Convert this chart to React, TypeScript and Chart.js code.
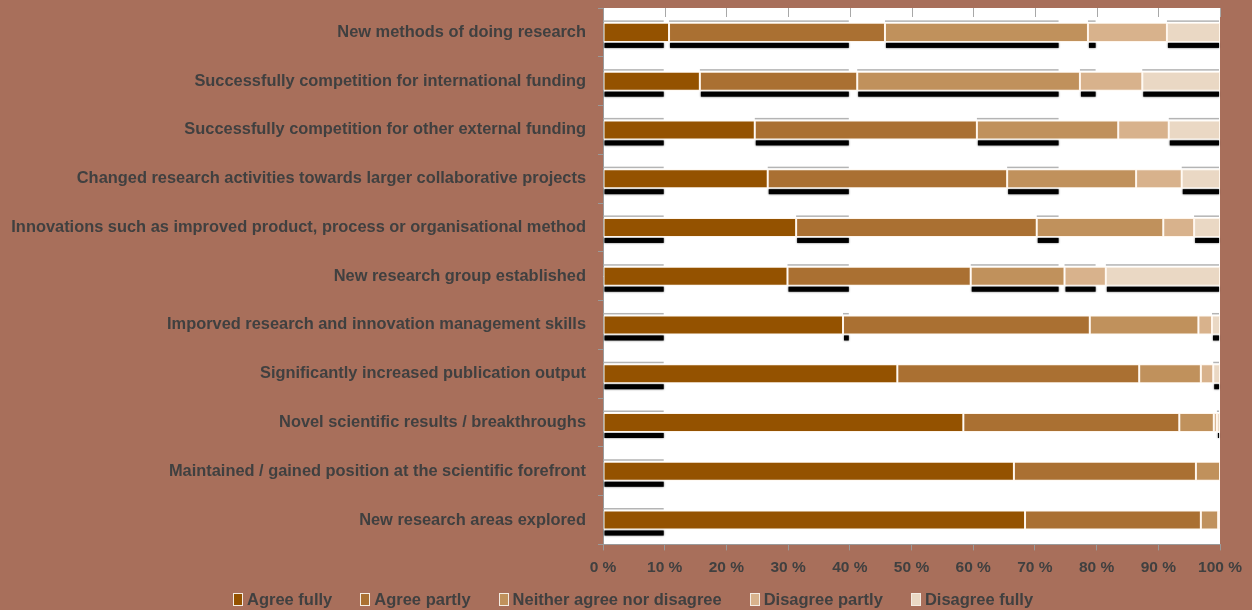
import React, { useEffect, useRef } from "react";
import { Chart, registerables } from "chart.js";

Chart.register(...registerables);

const categories = [
  "New methods of doing research",
  "Successfully competition for international funding",
  "Successfully competition for other external funding",
  "Changed research activities towards larger collaborative projects",
  "Innovations such as improved product, process or organisational method",
  "New research group established",
  "Imporved research and innovation management skills",
  "Significantly increased publication output",
  "Novel scientific results / breakthroughs",
  "Maintained / gained position at the scientific forefront",
  "New research areas explored",
];

const seriesNames = [
  "Agree fully",
  "Agree partly",
  "Neither agree nor disagree",
  "Disagree partly",
  "Disagree fully",
];

const agreeFully = [10.7, 15.7, 24.6, 26.7, 31.3, 29.9, 38.9, 47.7, 58.4, 66.6, 68.4];
const agreePartly = [35.0, 25.5, 36.0, 38.8, 39.0, 29.7, 40.0, 39.2, 35.0, 29.5, 28.5];
const neitherAgree = [32.9, 36.1, 22.9, 20.9, 20.5, 15.2, 17.6, 10.0, 5.6, 3.9, 2.8];
const disagreePartly = [12.8, 10.1, 8.2, 7.4, 5.0, 6.7, 2.2, 2.0, 0.5, 0, 0.3];
const disagreeFully = [8.6, 12.6, 8.3, 6.2, 4.2, 18.5, 1.3, 1.1, 0.5, 0, 0];

const xTicks = [0, 10, 20, 30, 40, 50, 60, 70, 80, 90, 100];

// value windows (per series) in which the dark drop-shadow strips are visible
const shadowWindows = [
  [0, 10],
  [10, 40],
  [40, 74],
  [74, 80],
  [80, 100],
];

const colors = ["#945200", "#AA7032", "#C0915C", "#D8B28C", "#EAD8C4"];
const BG = "#A86F5B";
const TEXT = "#404040";
const FONT = "'Liberation Sans', Arial, sans-serif";

const plotBgPlugin = {
  id: "plotBg",
  beforeDraw(chart: any) {
    const { ctx, chartArea } = chart;
    ctx.save();
    ctx.fillStyle = "#FFFFFF";
    ctx.fillRect(chartArea.left, chartArea.top, chartArea.right - chartArea.left, chartArea.bottom - chartArea.top);
    // short grid stubs at the top of the plot
    const xScale = chart.scales.x;
    ctx.strokeStyle = "#A8A8A8";
    ctx.lineWidth = 1;
    xTicks.forEach((v) => {
      const px = Math.round(xScale.getPixelForValue(v)) + 0.5;
      ctx.beginPath();
      ctx.moveTo(px, chartArea.top);
      ctx.lineTo(px, chartArea.top + 9);
      ctx.stroke();
    });
    ctx.restore();
  },
};

const shadowPlugin = {
  id: "barShadow",
  beforeDatasetsDraw(chart: any) {
    const { ctx } = chart;
    const xScale = chart.scales.x;
    ctx.save();
    chart.data.datasets.forEach((_: any, di: number) => {
      const meta = chart.getDatasetMeta(di);
      const [w0, w1] = shadowWindows[di];
      const wl = xScale.getPixelForValue(w0);
      const wr = xScale.getPixelForValue(w1);
      meta.data.forEach((bar: any) => {
        const left = Math.max(Math.min(bar.base, bar.x), wl);
        const right = Math.min(Math.max(bar.base, bar.x), wr) - 1;
        if (right - left < 1) return;
        const top = bar.y - bar.height / 2;
        const bottom = bar.y + bar.height / 2;
        ctx.fillStyle = "#000000";
        ctx.shadowColor = "rgba(0,0,0,0.7)";
        ctx.shadowBlur = 2;
        ctx.fillRect(left + 1, bottom + 1, right - left - 1, 5);
        ctx.shadowBlur = 0;
        ctx.fillStyle = "#B4B4B4";
        ctx.fillRect(left, top - 2.5, right - left, 1.5);
      });
    });
    ctx.restore();
  },
};

export default function App() {
  const canvasRef = useRef<HTMLCanvasElement | null>(null);

  useEffect(() => {
    const prevMargin = document.body.style.margin;
    document.body.style.margin = "0";
    document.body.style.background = BG;
    const canvas = canvasRef.current!;
    const data = [agreeFully, agreePartly, neitherAgree, disagreePartly, disagreeFully];
    const chart = new Chart(canvas, {
      type: "bar",
      data: {
        labels: categories,
        datasets: data.map((vals, i) => ({
          label: seriesNames[i],
          data: vals,
          backgroundColor: colors[i],
          borderColor: "#FFF6EC",
          borderWidth: 1,
          borderSkipped: false,
          barPercentage: 0.39,
          categoryPercentage: 1,
        })),
      },
      options: {
        indexAxis: "y",
        animation: false,
        responsive: false,
        maintainAspectRatio: false,
        layout: { padding: { top: 8, right: 32, left: 0, bottom: 25 } },
        scales: {
          x: {
            stacked: true,
            min: 0,
            max: 100,
            afterBuildTicks: (scale: any) => {
              scale.ticks = xTicks.map((v) => ({ value: v }));
            },
            afterFit: (scale: any) => {
              scale.paddingLeft = 0;
              scale.paddingRight = 0;
            },
            ticks: {
              callback: (v: any) => `${v} %`,
              color: TEXT,
              font: { family: FONT, size: 15.5, weight: "bold" },
              padding: 8,
              maxRotation: 0,
            },
            grid: { drawOnChartArea: false, tickLength: 6, color: "#9A9A9A" },
            border: { color: "#9A9A9A" },
          },
          y: {
            stacked: true,
            afterFit: (scale: any) => {
              scale.width = 603;
              scale.paddingTop = 0;
              scale.paddingBottom = 0;
            },
            ticks: {
              color: TEXT,
              font: { family: FONT, size: 16.4, weight: "bold" },
              padding: 12,
            },
            grid: { offset: true, drawOnChartArea: false, tickLength: 5, color: "#9A9A9A" },
            border: { color: "#9A9A9A" },
          },
        },
        plugins: {
          legend: { display: false },
          tooltip: { enabled: false },
        },
      },
      plugins: [plotBgPlugin, shadowPlugin],
    } as any);
    return () => {
      chart.destroy();
      document.body.style.margin = prevMargin;
    };
  }, []);

  return (
    <div style={{ position: "fixed", left: 0, top: 0, width: 1252, height: 610, background: BG }}>
      <canvas ref={canvasRef} width={1252} height={610} style={{ display: "block", width: 1252, height: 610 }} />
      <div
        style={{
          position: "absolute",
          left: 233,
          top: 589,
          display: "flex",
          alignItems: "center",
          gap: 28,
          fontFamily: FONT,
          fontWeight: "bold",
          fontSize: 16.5,
          color: TEXT,
          lineHeight: "20px",
          whiteSpace: "nowrap",
        }}
      >
        {seriesNames.map((name, i) => (
          <div key={name} style={{ display: "flex", alignItems: "center" }}>
            <span
              style={{
                display: "inline-block",
                width: 8,
                height: 11,
                background: colors[i],
                border: "1px solid #F4EBE2",
                marginRight: 4,
              }}
            />
            <span>{name}</span>
          </div>
        ))}
      </div>
    </div>
  );
}
